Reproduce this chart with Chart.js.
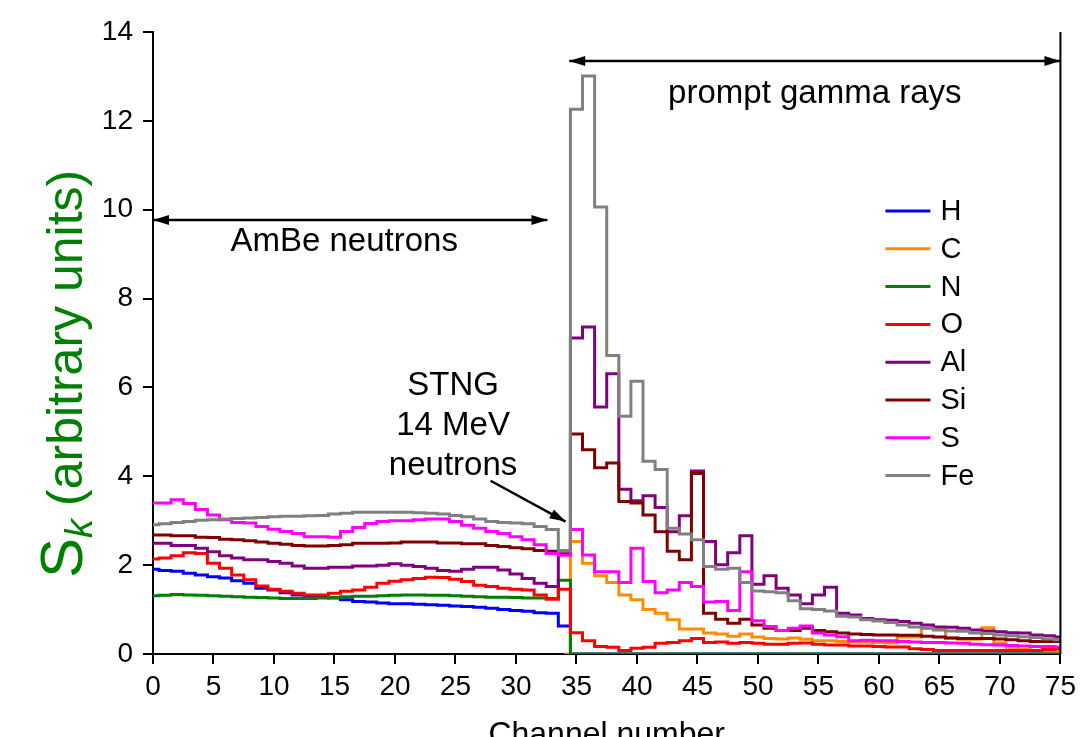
<!DOCTYPE html>
<html>
<head>
<meta charset="utf-8">
<script src="https://cdn.jsdelivr.net/npm/chart.js@4.4.1/dist/chart.umd.min.js"></script>
<style>
  html, body { margin: 0; padding: 0; background: #fff; }
  #wrap { width: 1082px; height: 737px; }
</style>
</head>
<body>
<div id="wrap"><canvas id="chart" width="1082" height="737"></canvas></div>
<script>
// channel numbers 0..75
const channels = [0,1,2,3,4,5,6,7,8,9,10,11,12,13,14,15,16,17,18,19,20,21,22,23,24,25,26,27,28,29,30,31,32,33,34,35,36,37,38,39,40,41,42,43,44,45,46,47,48,49,50,51,52,53,54,55,56,57,58,59,60,61,62,63,64,65,66,67,68,69,70,71,72,73,74,75];
const elements = ["H", "C", "N", "O", "Al", "Si", "S", "Fe"];
const colors = ["#0000ff", "#ff8c00", "#008000", "#ff0000", "#800080", "#800000", "#ff00ff", "#808080"];
const yTicks = [0, 2, 4, 6, 8, 10, 12, 14];

const sH = [1.91,1.88,1.86,1.82,1.78,1.74,1.71,1.65,1.59,1.48,1.44,1.38,1.33,1.31,1.28,1.26,1.22,1.18,1.17,1.15,1.13,1.13,1.12,1.11,1.10,1.08,1.07,1.05,1.03,1.00,0.98,0.96,0.93,0.92,0.63,
  0,0,0,0,0,0,0,0,0,0,0,0,0,0,0,0,0,0,0,0,0,0,0,0,0,0,0,0,0,0,0,0,0,0,0,0,0,0,0,0,0];
const sC = [null,null,null,null,null,null,null,null,null,null,null,null,null,null,null,null,null,null,null,null,null,null,null,null,null,null,null,null,null,null,null,null,null,null,0,
  2.53,2.04,1.76,1.61,1.33,1.22,1.00,0.92,0.77,0.56,0.56,0.47,0.45,0.40,0.45,0.38,0.35,0.34,0.36,0.33,0.30,0.30,0.28,0.27,0.27,0.26,0.25,0.38,0.38,0.58,0.58,0.36,0.33,0.33,0.59,0.25,0.15,0.10,0.08,0.07,0.06];
const sN = [1.31,1.32,1.34,1.33,1.32,1.31,1.30,1.29,1.28,1.27,1.26,1.25,1.25,1.25,1.26,1.27,1.29,1.30,1.30,1.31,1.32,1.33,1.33,1.32,1.32,1.31,1.30,1.29,1.28,1.28,1.27,1.26,1.26,1.25,1.66,
  0,0,0,0,0,0,0,0,0,0,0,0,0,0,0,0,0,0,0,0,0,0,0,0,0,0,0,0,0,0,0,0,0,0,0,0,0,0,0,0,0];
const sO = [2.14,2.16,2.21,2.28,2.26,2.04,1.93,1.78,1.67,1.53,1.46,1.41,1.37,1.33,1.33,1.37,1.41,1.44,1.50,1.59,1.64,1.67,1.70,1.73,1.72,1.68,1.63,1.55,1.52,1.48,1.46,1.44,1.33,1.23,1.46,
  0.48,0.30,0.17,0.15,0.08,0.13,0.15,0.24,0.26,0.30,0.35,0.26,0.27,0.24,0.26,0.24,0.22,0.22,0.24,0.25,0.22,0.20,0.20,0.18,0.18,0.17,0.16,0.16,0.12,0.10,0.08,0.08,0.08,0.08,0.08,0.08,0.08,0.08,0.08,0.10,0.12];
const sAl = [2.49,2.49,2.44,2.44,2.38,2.30,2.21,2.16,2.12,2.12,2.08,2.04,1.98,1.93,1.93,1.95,1.95,1.98,1.98,2.00,2.03,2.00,1.97,1.93,1.88,1.86,1.91,1.95,1.95,1.89,1.80,1.70,1.59,1.52,2.25,
  7.11,7.36,5.56,6.31,3.71,3.45,3.56,3.30,2.75,3.11,4.12,2.53,2.01,2.28,2.66,1.57,1.76,1.48,1.33,1.13,1.33,1.50,0.92,0.88,0.80,0.77,0.76,0.73,0.69,0.65,0.61,0.60,0.58,0.54,0.52,0.50,0.48,0.47,0.43,0.41,0.38];
const sSi = [2.68,2.68,2.66,2.66,2.63,2.62,2.58,2.57,2.55,2.52,2.49,2.47,2.44,2.43,2.43,2.44,2.46,2.49,2.49,2.49,2.50,2.52,2.52,2.52,2.50,2.50,2.48,2.48,2.44,2.42,2.39,2.37,2.33,2.31,2.25,
  4.95,4.60,4.19,4.30,3.43,3.40,3.13,2.75,2.31,2.12,4.06,0.92,0.78,0.69,0.78,0.65,0.58,0.53,0.53,0.58,0.53,0.50,0.47,0.45,0.44,0.43,0.43,0.42,0.42,0.40,0.38,0.36,0.35,0.35,0.35,0.34,0.32,0.30,0.28,0.28,0.28];
const sS = [3.40,3.40,3.47,3.39,3.25,3.13,3.02,2.96,2.95,2.87,2.81,2.76,2.71,2.64,2.64,2.63,2.76,2.85,2.94,2.98,3.00,3.00,3.02,3.04,3.04,2.98,2.90,2.83,2.76,2.71,2.64,2.57,2.46,2.26,2.22,
  2.80,2.23,1.85,1.85,1.61,2.38,1.63,1.38,1.44,1.61,1.52,1.17,1.18,0.98,1.85,0.75,0.62,0.53,0.58,0.63,0.47,0.43,0.39,0.30,0.31,0.30,0.30,0.28,0.27,0.26,0.26,0.25,0.24,0.22,0.21,0.20,0.19,0.18,0.17,0.17,0.16];
const sFe = [2.91,2.93,2.96,2.98,3.01,3.02,3.04,3.05,3.06,3.07,3.09,3.10,3.10,3.11,3.12,3.15,3.17,3.19,3.19,3.19,3.19,3.19,3.18,3.17,3.15,3.12,3.09,3.04,2.98,2.96,2.95,2.93,2.87,2.80,2.33,
  12.26,13.01,10.06,6.72,5.35,6.14,4.34,4.15,2.83,2.70,2.57,1.97,1.91,1.93,1.61,1.42,1.40,1.38,1.20,1.02,1.00,0.97,0.85,0.83,0.77,0.74,0.71,0.65,0.61,0.58,0.54,0.52,0.51,0.47,0.46,0.43,0.41,0.39,0.37,0.34,0.32];

const series = [sH, sC, sN, sO, sAl, sSi, sS, sFe];

const FONT = "'Liberation Sans', Arial, sans-serif";

// arrows and text labels, in data coordinates
const ambeArrow = { x1: 0, x2: 32.6, y: 9.77 };
const promptArrow = { x1: 34.4, x2: 75, y: 13.35 };
const stngArrow = { x1: 27.9, y1: 3.9, x2: 34.1, y2: 2.98 };
const notes = [
  { text: "AmBe neutrons", x: 15.8, y: 9.27 },
  { text: "prompt gamma rays", x: 54.7, y: 12.6 },
  { text: "STNG", x: 24.8, y: 6.04 },
  { text: "14 MeV", x: 24.8, y: 5.14 },
  { text: "neutrons", x: 24.8, y: 4.24 },
];

const drawArrow = (ctx, x1, y1, x2, y2, both) => {
  const ang = Math.atan2(y2 - y1, x2 - x1);
  const head = (px, py, a) => {
    ctx.beginPath();
    ctx.moveTo(px, py);
    ctx.lineTo(px - 16 * Math.cos(a) + 5 * Math.sin(a), py - 16 * Math.sin(a) - 5 * Math.cos(a));
    ctx.lineTo(px - 16 * Math.cos(a) - 5 * Math.sin(a), py - 16 * Math.sin(a) + 5 * Math.cos(a));
    ctx.closePath();
    ctx.fill();
  };
  ctx.beginPath();
  ctx.moveTo(x1, y1);
  ctx.lineTo(x2, y2);
  ctx.stroke();
  head(x2, y2, ang);
  if (both) head(x1, y1, ang + Math.PI);
};

const decorations = {
  id: "decorations",
  afterDatasetsDraw(chart) {
    const { ctx, chartArea: a, scales: { x, y } } = chart;
    ctx.save();
    ctx.strokeStyle = "#000";
    ctx.fillStyle = "#000";
    ctx.lineWidth = 2;
    // right frame
    ctx.beginPath();
    ctx.moveTo(a.right, a.top);
    ctx.lineTo(a.right, a.bottom);
    ctx.stroke();

    ctx.lineWidth = 2.5;
    drawArrow(ctx, x.getPixelForValue(ambeArrow.x1), y.getPixelForValue(ambeArrow.y),
      x.getPixelForValue(ambeArrow.x2), y.getPixelForValue(ambeArrow.y), true);
    drawArrow(ctx, x.getPixelForValue(promptArrow.x1), y.getPixelForValue(promptArrow.y),
      x.getPixelForValue(promptArrow.x2), y.getPixelForValue(promptArrow.y), true);
    drawArrow(ctx, x.getPixelForValue(stngArrow.x1), y.getPixelForValue(stngArrow.y1),
      x.getPixelForValue(stngArrow.x2), y.getPixelForValue(stngArrow.y2), false);

    ctx.font = `33px ${FONT}`;
    ctx.textAlign = "center";
    ctx.textBaseline = "middle";
    notes.forEach((n) => {
      ctx.fillText(n.text, x.getPixelForValue(n.x), y.getPixelForValue(n.y));
    });

    // legend
    ctx.font = `29px ${FONT}`;
    ctx.textAlign = "left";
    chart.data.datasets.forEach((ds, i) => {
      const ly = a.top + 179 + i * 37.8;
      ctx.strokeStyle = ds.borderColor;
      ctx.lineWidth = 3;
      ctx.beginPath();
      ctx.moveTo(a.right - 175, ly);
      ctx.lineTo(a.right - 130, ly);
      ctx.stroke();
      ctx.fillStyle = "#000";
      ctx.fillText(ds.label, a.right - 120, ly + 1);
    });
    ctx.restore();
  },
  afterDraw(chart) {
    // y axis title with subscript k
    const { ctx, chartArea: a } = chart;
    ctx.save();
    ctx.translate(82, (a.top + a.bottom) / 2 + 235);
    ctx.rotate(-Math.PI / 2);
    ctx.fillStyle = "#008000";
    ctx.textAlign = "left";
    ctx.textBaseline = "alphabetic";
    ctx.font = `60px ${FONT}`;
    ctx.fillText("S", 0, 0);
    let pos = ctx.measureText("S").width;
    ctx.font = `italic 38px ${FONT}`;
    ctx.fillText("k", pos, 10);
    pos += ctx.measureText("k").width + 13;
    ctx.font = `50px ${FONT}`;
    ctx.fillText("(arbitrary units)", pos, 0);
    ctx.restore();
  },
};

new Chart(document.getElementById("chart"), {
  type: "line",
  data: {
    datasets: elements.map((name, i) => ({
      label: name,
      data: channels.map((c, k) => ({ x: c, y: series[i][k] })),
      borderColor: colors[i],
      backgroundColor: colors[i],
      borderWidth: 3,
      pointRadius: 0,
      stepped: "middle",
      fill: false,
      order: elements.length - i,
    })),
  },
  options: {
    responsive: false,
    animation: false,
    devicePixelRatio: 1,
    layout: { padding: { top: 32, right: 20, left: 0, bottom: 0 } },
    plugins: {
      legend: { display: false },
      tooltip: { enabled: false },
    },
    scales: {
      x: {
        type: "linear",
        min: 0,
        max: 75,
        afterFit: (s) => { s.height = 83; },
        ticks: {
          stepSize: 5,
          autoSkip: false,
          maxRotation: 0,
          padding: 6,
          color: "#000",
          font: { family: FONT, size: 28 },
        },
        grid: { drawOnChartArea: false, drawTicks: true, tickLength: 10, color: "#000", lineWidth: 2 },
        border: { display: true, color: "#000", width: 2 },
        title: {
          display: true,
          text: "Channel number",
          color: "#000",
          font: { family: FONT, size: 32 },
          padding: { top: 0, bottom: -17 },
        },
      },
      y: {
        min: 0,
        max: 14,
        afterFit: (s) => { s.width = 153; },
        afterBuildTicks: (s) => { s.ticks = yTicks.map((v) => ({ value: v })); },
        ticks: {
          padding: 10,
          color: "#000",
          font: { family: FONT, size: 28 },
        },
        grid: { drawOnChartArea: false, drawTicks: true, tickLength: 10, color: "#000", lineWidth: 2 },
        border: { display: true, color: "#000", width: 2 },
      },
    },
  },
  plugins: [decorations],
});
</script>
</body>
</html>
